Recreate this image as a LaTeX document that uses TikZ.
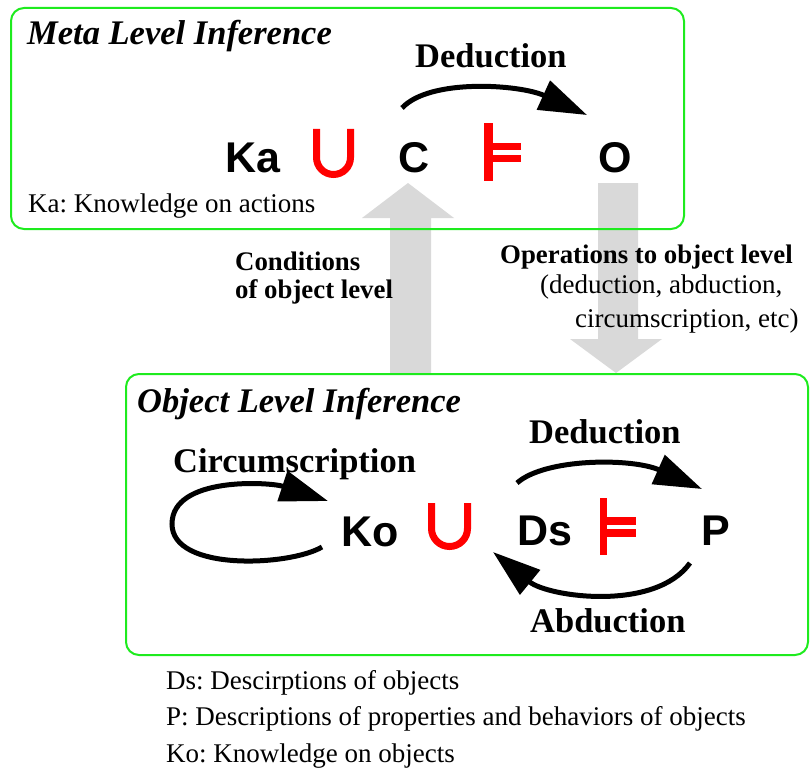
\documentclass[tikz,border=0pt]{standalone}
\usepackage{fontspec}
\setmainfont{Liberation Serif}
\newfontfamily\symfont{Liberation Sans}
\usetikzlibrary{arrows.meta}
\definecolor{boxgreen}{RGB}{30,235,30}
\definecolor{bigarrow}{RGB}{217,217,217}
\definecolor{symred}{RGB}{255,0,0}
\frenchspacing
\begin{document}
\begin{tikzpicture}[x=1pt,y=-1pt,
  lvl/.style={font=\fontsize{34.5}{40}\selectfont\bfseries\itshape, anchor=base west, inner sep=0pt},
  infer/.style={font=\fontsize{34.5}{40}\selectfont\bfseries, anchor=base west, inner sep=0pt},
  note/.style={font=\fontsize{27}{30}\selectfont, anchor=base west, inner sep=0pt},
  notebold/.style={font=\fontsize{26.8}{30}\selectfont\bfseries, anchor=base west, inner sep=0pt},
  sym/.style={font=\symfont\fontsize{43}{48}\selectfont\bfseries, anchor=base, inner sep=0pt},
  levelbox/.style={draw=boxgreen, line width=2pt, rounded corners=13pt},
  bigarr/.style={fill=bigarrow, draw=none},
  infarrow/.style={line width=5pt, -{Triangle[length=48pt,width=31pt]}},
  unionsym/.style={draw=symred, line width=7pt},
  modelssym/.style={fill=symred}]
\useasboundingbox (0,0) rectangle (810,778);

% big gray arrows between levels
\path[bigarr] (390,373) -- (390,218) -- (362,218) -- (408,183) -- (454,218) -- (431,218) -- (431,373) -- cycle;
\path[bigarr] (598,183) -- (638,183) -- (638,339) -- (662,339) -- (616,373) -- (570,339) -- (598,339) -- cycle;

% level boxes
\draw[levelbox] (11,8) rectangle (684,229);
\draw[levelbox] (126,374) rectangle (808,655);

% meta level
\node[lvl] (metatitle) at (27,45) {Meta Level Inference};
\node[infer] (metaded) at (415,68) {Deduction};
\node[sym] (Ka) at (253,172) {Ka};
\node[sym] (C) at (414,172) {C};
\node[sym] (O) at (615,172) {O};
\draw[unionsym] (316.5,129) -- (316.5,157.5) .. controls (316.5,166.9) and (324.1,174.5) .. (333.5,174.5) .. controls (342.9,174.5) and (350.5,166.9) .. (350.5,157.5) -- (350.5,129);
\fill[modelssym] (484,123) rectangle (493,181);
\fill[modelssym] (488,143) rectangle (521,150);
\fill[modelssym] (488,155) rectangle (521,162);
\coordinate (mdS) at (402,108);
\coordinate (mdE) at (587,115);
\draw[infarrow] (mdS) .. controls (430,78) and (520,84.5) .. (mdE);
\node[note] (kadef) at (28,212) {Ka: Knowledge on actions};

% labels between levels
\node[notebold] (cond1) at (235,270) {Conditions};
\node[notebold] (cond2) at (235,298) {of object level};
\node[notebold] (ops1) at (500,263) {Operations to object level};
\node[note] (ops2) at (540,293) {(deduction, abduction,};
\node[note] (ops3) at (575,327) {circumscription, etc)};

% object level
\node[lvl] (objtitle) at (137,412) {Object Level Inference};
\node[infer] (circ) at (173,472) {Circumscription};
\node[infer] (objded) at (529,443) {Deduction};
\node[infer] (abd) at (530,632) {Abduction};
\node[sym] (Ko) at (370,546) {Ko};
\node[sym] (Ds) at (545,545) {Ds};
\node[sym] (P) at (715.5,545) {P};
\draw[unionsym] (431.5,503) -- (431.5,528.5) .. controls (431.5,538.44) and (439.56,546.5) .. (449.5,546.5) .. controls (459.44,546.5) and (467.5,538.44) .. (467.5,528.5) -- (467.5,503);
\fill[modelssym] (600,498) rectangle (607,555);
\fill[modelssym] (603,517) rectangle (636,525);
\fill[modelssym] (603,529) rectangle (636,537);

\coordinate (loopS) at (322,547);
\coordinate (loopL) at (172,524);
\coordinate (loopE) at (328,501);
\draw[infarrow] (loopS) .. controls (290,566) and (172,572) .. (loopL) .. controls (172,476) and (270,482) .. (loopE);
\coordinate (odS) at (517,483);
\coordinate (odE) at (702,489);
\draw[infarrow] (odS) .. controls (545,458) and (632,457.8) .. (odE);
\coordinate (abS) at (690,563);
\coordinate (abE) at (493,552);
\draw[infarrow] (abS) .. controls (655,612) and (548,597) .. (abE);

% definitions
\node[note] (dsdef) at (166,689) {Ds: Descirptions of objects};
\node[note] (pdef) at (166,725) {P: Descriptions of properties and behaviors of objects};
\node[note] (kodef) at (166,762) {Ko: Knowledge on objects};
\end{tikzpicture}
\end{document}
